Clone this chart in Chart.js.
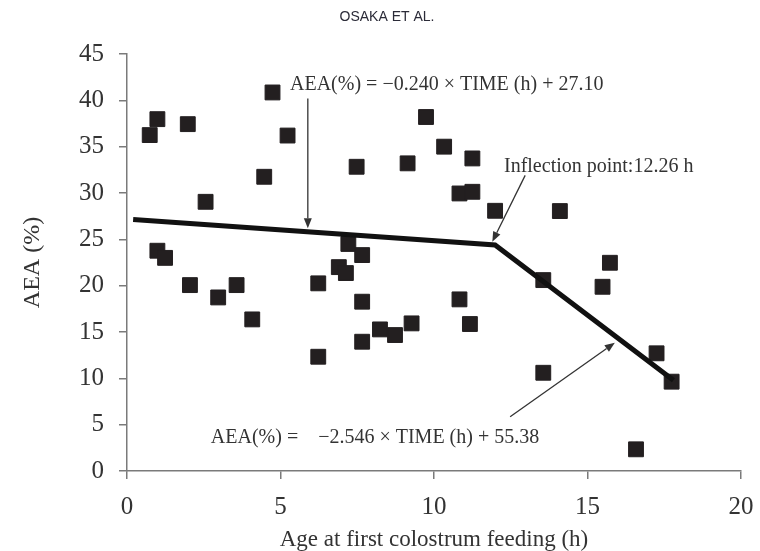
<!DOCTYPE html>
<html>
<head>
<meta charset="utf-8">
<script src="https://cdn.jsdelivr.net/npm/chart.js@4.4.0/dist/chart.umd.min.js"></script>
<style>
  body { margin: 0; background: #fff; }
</style>
</head>
<body>
<canvas id="aeaChart" width="760" height="551"></canvas>
<script>
// Values: AEA (%) vs. age at first colostrum feeding (h)
const ageHours = [
  0.74, 0.99, 1.98, 4.74, 4.47, 2.56, 0.99, 1.24, 5.23, 7.48,
  9.14, 7.21, 7.66, 6.90, 7.13, 6.23, 7.66, 7.66, 8.24, 8.73,
  9.27, 6.23, 9.74, 10.33, 11.25, 10.83, 11.25, 11.99, 14.10, 15.73,
  10.83, 11.17, 13.56, 13.56, 15.49, 17.25, 17.74, 16.58, 2.05, 2.97,
  3.57, 4.08
];
const aeaPercent = [
  36.25, 37.97, 37.43, 40.85, 31.75, 29.05, 23.77, 23.00, 36.20, 32.83,
  33.20, 24.50, 23.30, 22.00, 21.36, 20.25, 18.27, 13.95, 15.28, 14.67,
  15.93, 12.33, 38.20, 35.00, 33.73, 29.95, 30.13, 28.08, 28.05, 22.47,
  18.52, 15.86, 20.60, 10.60, 19.88, 12.70, 9.64, 2.34, 20.06, 18.73,
  20.06, 16.36
];

// Segmented regression line: start, inflection point, end
const fitHours = [0.2, 11.99, 17.8];
const fitAea = [27.15, 24.4, 9.8];

const xTicks = [0, 5, 10, 15, 20];
const yTicks = [0, 5, 10, 15, 20, 25, 30, 35, 40, 45];

// annotation texts and arrows, placed in data units
const notes = [
  { text: 'AEA(%) = \u22120.240 \u00d7 TIME (h) + 27.10', x: 5.31, y: 41.1 },
  { text: 'Inflection point:12.26 h', x: 12.28, y: 32.29 },
  { text: 'AEA(%) =    \u22122.546 \u00d7 TIME (h) + 55.38', x: 2.73, y: 2.99 }
];
const arrows = [
  { from: [5.89, 40.2], to: [5.89, 26.2] },
  { from: [12.97, 31.9], to: [11.9, 24.74] },
  { from: [12.48, 5.86], to: [15.89, 13.84] }
];

const SERIF = '"Liberation Serif", "Times New Roman", serif';
const INK = '#333';

function drawArrow(ctx, x1, y1, x2, y2) {
    const ang = Math.atan2(y2 - y1, x2 - x1);
    const head = 10, half = 4;
    const bx = x2 - head * Math.cos(ang), by = y2 - head * Math.sin(ang);
    ctx.beginPath();
    ctx.moveTo(x1, y1);
    ctx.lineTo(bx, by);
    ctx.stroke();
    ctx.beginPath();
    ctx.moveTo(x2, y2);
    ctx.lineTo(bx + half * Math.sin(ang), by - half * Math.cos(ang));
    ctx.lineTo(bx - half * Math.sin(ang), by + half * Math.cos(ang));
    ctx.closePath();
    ctx.fill();
}

const notePlugin = {
    id: 'notes',
    afterDatasetsDraw(chart) {
        const ctx = chart.ctx;
        const xs = chart.scales.x, ys = chart.scales.y;
        ctx.save();
        ctx.strokeStyle = INK;
        ctx.fillStyle = INK;
        ctx.lineWidth = 1.3;
        arrows.forEach(function(a) {
            drawArrow(ctx,
                xs.getPixelForValue(a.from[0]), ys.getPixelForValue(a.from[1]),
                xs.getPixelForValue(a.to[0]), ys.getPixelForValue(a.to[1]));
        });

        ctx.font = '20px ' + SERIF;
        ctx.textAlign = 'left';
        ctx.textBaseline = 'alphabetic';
        notes.forEach(function(n) {
            ctx.fillText(n.text, xs.getPixelForValue(n.x), ys.getPixelForValue(n.y));
        });

        // running header of the journal page
        ctx.font = '14px "Liberation Sans", Arial, sans-serif';
        ctx.fillStyle = '#2b2b38';
        ctx.textAlign = 'center';
        ctx.textBaseline = 'middle';
        ctx.fillText('OSAKA ET AL.', 387, 17);
        ctx.restore();
    }
};

new Chart(document.getElementById('aeaChart'), {
    type: 'scatter',
    data: {
        datasets: [{
            type: 'line',
            data: fitHours.map(function(h, i) { return { x: h, y: fitAea[i] }; }),
            borderColor: '#111',
            borderWidth: 5,
            pointRadius: 0,
            fill: false,
            tension: 0,
            order: 0
        }, {
            data: ageHours.map(function(h, i) { return { x: h, y: aeaPercent[i] }; }),
            pointStyle: 'rect',
            pointRadius: 10.5,
            pointBackgroundColor: '#231f20',
            pointBorderColor: '#231f20',
            pointBorderWidth: 1,
            order: 1
        }]
    },
    options: {
        responsive: false,
        animation: false,
        layout: { padding: { top: 54, right: 19, left: 0, bottom: 0 } },
        plugins: {
            legend: { display: false },
            tooltip: { enabled: false },
            title: { display: false }
        },
        scales: {
            x: {
                type: 'linear',
                min: 0,
                max: 20,
                afterFit: function(scale) {
                    scale.height = 80;
                    // keep the plot edges fixed; labels may overhang
                    scale.paddingLeft = 0;
                    scale.paddingRight = 0;
                },
                afterBuildTicks: function(scale) { scale.ticks = xTicks.map(function(v) { return { value: v }; }); },
                grid: { display: true, drawOnChartArea: false, drawTicks: true, tickLength: 8, color: '#7a7a7a', lineWidth: 1.5 },
                border: { display: true, color: '#7a7a7a', width: 1.5 },
                ticks: { color: INK, font: { family: SERIF, size: 25 }, padding: 13, maxRotation: 0 },
                title: {
                    display: true,
                    text: 'Age at first colostrum feeding (h)',
                    color: INK,
                    font: { family: SERIF, size: 23, lineHeight: 1 },
                    padding: { top: 0, bottom: 0 }
                }
            },
            y: {
                type: 'linear',
                min: 0,
                max: 45,
                afterFit: function(scale) {
                    scale.width = 127;
                    scale.paddingTop = 0;
                    scale.paddingBottom = 0;
                },
                afterBuildTicks: function(scale) { scale.ticks = yTicks.map(function(v) { return { value: v }; }); },
                grid: { display: true, drawOnChartArea: false, drawTicks: true, tickLength: 8, color: '#7a7a7a', lineWidth: 1.5 },
                border: { display: true, color: '#7a7a7a', width: 1.5 },
                ticks: { color: INK, font: { family: SERIF, size: 25 }, padding: 15 },
                title: {
                    display: true,
                    text: 'AEA (%)',
                    color: INK,
                    font: { family: SERIF, size: 24, lineHeight: 1 },
                    padding: { top: 21, bottom: 0 }
                }
            }
        }
    },
    plugins: [notePlugin]
});
</script>
</body>
</html>
